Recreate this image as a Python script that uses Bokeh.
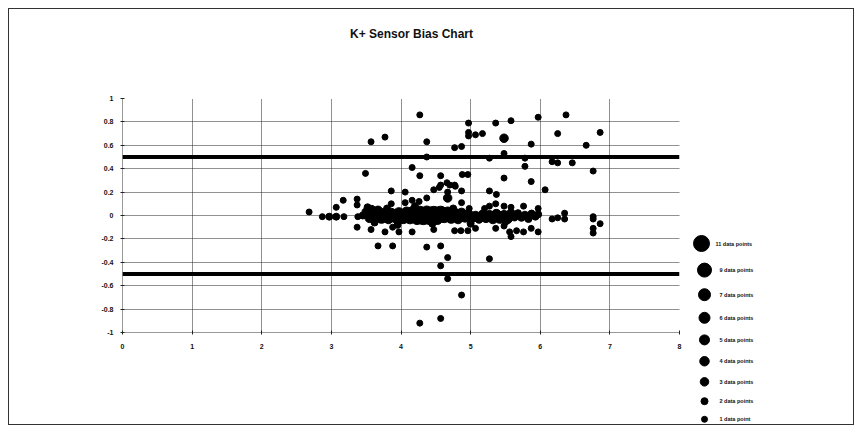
from bokeh.plotting import figure
from bokeh.layouts import row, column
from bokeh.models import Range1d, FixedTicker, Span, ColumnDataSource
from bokeh.core.properties import value
from bokeh.embed import file_html
from bokeh.resources import INLINE

TITLE = "K+ Sensor Bias Chart"
X_TICKS = [0, 1, 2, 3, 4, 5, 6, 7, 8]
X_TICK_LABELS = ["0", "1", "2", "3", "4", "5", "6", "7", "8"]
Y_TICKS = [-1, -0.8, -0.6, -0.4, -0.2, 0, 0.2, 0.4, 0.6, 0.8, 1]
Y_TICK_LABELS = ["-1", "-0.8", "-0.6", "-0.4", "-0.2", "0", "0.2", "0.4", "0.6", "0.8", "1"]
LIMITS = [0.5, -0.5]

# upper outliers
UP_X = [4.27, 4.97, 5.36, 5.58, 5.97, 6.37, 4.97, 4.97, 5.07, 5.17, 5.48, 6.25, 6.86,
        3.57, 3.77, 4.37, 4.77, 4.87, 5.87, 6.66, 4.37, 5.48, 5.27, 5.78, 6.17, 6.25,
        6.46, 5.78, 6.76, 3.49, 4.16, 4.27, 4.57, 4.66, 4.70, 4.78, 4.96, 4.88, 5.48,
        5.87, 6.07, 5.27, 5.37, 3.86, 4.06, 4.47, 4.55, 4.67, 4.87, 4.57, 4.77]
UP_Y = [0.86, 0.79, 0.79, 0.81, 0.84, 0.86, 0.71, 0.68, 0.69, 0.70, 0.66, 0.70, 0.71,
        0.63, 0.67, 0.63, 0.58, 0.59, 0.61, 0.60, 0.50, 0.53, 0.49, 0.49, 0.46, 0.45,
        0.45, 0.42, 0.38, 0.36, 0.41, 0.34, 0.34, 0.28, 0.26, 0.25, 0.35, 0.35, 0.32,
        0.29, 0.22, 0.21, 0.18, 0.21, 0.20, 0.22, 0.24, 0.20, 0.21, 0.26, 0.26]
UP_N = [1, 1, 1, 1, 1, 1, 1, 1, 1, 1, 3, 1, 1,
        1, 1, 1, 1, 1, 1, 1, 1, 1, 1, 1, 1, 1,
        1, 1, 1, 1, 1, 1, 1, 1, 1, 1, 1, 1, 1,
        1, 1, 1, 1, 1, 1, 1, 1, 1, 1, 1, 1]

# points just above the zero band
MID_X = [2.68, 3.07, 3.17, 3.37, 3.37, 3.86, 4.06, 4.16, 4.26, 4.37, 4.67, 4.87,
         5.27, 5.36, 5.48, 5.58, 5.76, 5.87, 5.97, 4.98, 3.52, 3.80, 4.20, 4.75, 5.20]
MID_Y = [0.03, 0.07, 0.13, 0.14, 0.09, 0.10, 0.11, 0.13, 0.12, 0.15, 0.15, 0.11,
         0.08, 0.10, 0.08, 0.07, 0.08, 0.02, 0.06, 0.06, 0.07, 0.06, 0.08, 0.06, 0.06]
MID_N = [1, 1, 1, 1, 1, 1, 1, 1, 1, 1, 3, 1,
         1, 1, 1, 1, 1, 1, 1, 1, 2, 2, 2, 2, 1]

# the dense band around zero
BAND_X = [2.87, 2.97, 3.07, 3.18, 3.38, 3.45, 3.50, 3.55, 3.58, 3.63, 3.67, 3.72,
          3.77, 3.82, 3.86, 3.92, 3.97, 4.03, 4.08, 4.13, 4.18, 4.23, 4.27, 4.32,
          4.37, 4.42, 4.47, 4.52, 4.57, 4.62, 4.67, 4.72, 4.77, 4.82, 4.87, 4.92,
          4.97, 5.02, 5.07, 5.12, 5.17, 5.22, 5.27, 5.32, 5.37, 5.42, 5.48, 5.53,
          5.58, 5.63, 5.68, 5.73, 5.78, 5.83, 5.88, 5.93, 5.97, 6.17, 6.25, 6.35,
          6.35, 6.76, 6.76, 6.86]
BAND_Y = [-0.01, -0.01, -0.01, -0.01, -0.01, 0.00, 0.03, -0.02, 0.05, 0.00, 0.04, -0.02,
          0.02, -0.03, 0.01, -0.02, 0.02, -0.01, 0.03, -0.02, 0.01, -0.03, 0.02, -0.01,
          0.03, -0.02, 0.01, -0.03, 0.02, -0.01, 0.03, -0.02, 0.01, -0.03, 0.02, -0.01,
          0.01, -0.02, 0.00, -0.03, 0.01, -0.02, 0.00, -0.03, 0.01, -0.02, 0.00, -0.03,
          0.02, -0.01, 0.02, -0.02, 0.00, -0.03, 0.02, -0.01, 0.01, -0.03, -0.02, 0.02,
          -0.03, -0.01, -0.03, -0.07]
BAND_N = [1, 2, 2, 1, 1, 2, 3, 4, 3, 5, 4, 6,
          5, 4, 7, 5, 6, 9, 5, 7, 11, 6, 9, 11,
          7, 9, 11, 6, 9, 7, 5, 6, 7, 4, 5, 6,
          4, 4, 3, 3, 3, 4, 5, 4, 5, 6, 5, 4,
          3, 3, 2, 2, 3, 2, 1, 2, 2, 1, 1, 1,
          1, 1, 1, 1]

# points below the zero band
LOW_X = [3.37, 3.57, 3.77, 3.88, 3.97, 4.16, 4.47, 4.77, 4.86, 4.96, 5.07, 5.36,
         5.48, 5.56, 5.58, 5.66, 5.76, 5.87, 5.97, 6.76, 6.76, 3.62, 3.95, 4.45,
         5.00, 5.50, 3.67, 3.88, 4.37, 4.57, 4.67, 5.27, 4.57, 4.67, 4.87, 4.27, 4.57]
LOW_Y = [-0.10, -0.12, -0.14, -0.10, -0.14, -0.14, -0.12, -0.13, -0.13, -0.13, -0.11, -0.11,
         -0.09, -0.14, -0.18, -0.13, -0.14, -0.11, -0.14, -0.11, -0.15, -0.06, -0.08, -0.07,
         -0.07, -0.06, -0.26, -0.26, -0.27, -0.26, -0.36, -0.37, -0.43, -0.54, -0.68, -0.92, -0.88]
LOW_N = [1, 1, 1, 1, 1, 1, 1, 1, 1, 1, 1, 1,
         1, 1, 1, 1, 1, 1, 1, 1, 1, 2, 2, 2,
         2, 1, 1, 1, 1, 1, 1, 1, 1, 1, 1, 1, 1]

LEGEND_COUNTS = [11, 9, 7, 6, 5, 4, 3, 2, 1]
LEGEND_LABELS = ["11 data points", "9 data points", "7 data points", "6 data points",
                 "5 data points", "4 data points", "3 data points", "2 data points",
                 "1 data point"]

# ---------------- styling / layout ----------------
SIZE_OF = {1: 6, 2: 7, 3: 8.5, 4: 9.5, 5: 10, 6: 11, 7: 12, 8: 13, 9: 14, 10: 15, 11: 16}
FONT = "Liberation Sans"

xs = UP_X + MID_X + BAND_X + LOW_X
ys = UP_Y + MID_Y + BAND_Y + LOW_Y
ns = UP_N + MID_N + BAND_N + LOW_N
src = ColumnDataSource(dict(x=xs, y=ys, n=ns, size=[SIZE_OF[n] for n in ns]))

W_MAIN, W_LEG, H_TITLE, H = 680, 164, 40, 375

# ---------------- title strip ----------------
tfig = figure(width=W_MAIN + W_LEG, height=H_TITLE, output_backend="svg",
              toolbar_location=None, x_range=Range1d(0, W_MAIN + W_LEG),
              y_range=Range1d(H_TITLE, 0), x_axis_location=None, y_axis_location=None,
              min_border_left=0, min_border_right=0, min_border_top=0,
              min_border_bottom=0, outline_line_color=None)
tfig.grid.visible = False
tsrc = ColumnDataSource(dict(x=[402], y=[24], t=[TITLE]))
tfig.text("x", "y", text="t", source=tsrc, text_font=value(FONT), text_font_size="12px",
          text_font_style="bold", text_align="center", text_baseline="middle",
          text_color="#111111")

# ---------------- main chart ----------------
p = figure(width=W_MAIN, height=H, output_backend="svg", toolbar_location=None,
           x_range=Range1d(0, 8), y_range=Range1d(-1, 1),
           min_border_left=113, min_border_right=10, min_border_top=49,
           min_border_bottom=92, outline_line_color=None)

for ax in (p.xaxis[0], p.yaxis[0]):
    ax.axis_line_color = "#333333"
    ax.axis_line_dash = "1 1"
    ax.major_tick_line_color = "#222222"
    ax.major_tick_in = 2
    ax.major_tick_out = 2
    ax.minor_tick_line_color = None
    ax.major_label_text_font = FONT
    ax.major_label_text_font_size = "7px"
    ax.major_label_text_font_style = "bold"
    ax.major_label_text_color = "#111111"

p.xaxis.ticker = FixedTicker(ticks=X_TICKS)
p.xaxis.major_label_overrides = {t: l for t, l in zip(X_TICKS, X_TICK_LABELS)}
p.xaxis.major_label_standoff = 9
p.yaxis.ticker = FixedTicker(ticks=Y_TICKS)
p.yaxis.major_label_overrides = {t: l for t, l in zip(Y_TICKS, Y_TICK_LABELS)}
p.yaxis.major_label_standoff = 7

for g in (p.xgrid[0], p.ygrid[0]):
    g.grid_line_color = "#222222"
    g.grid_line_dash = "1 1"
    g.grid_line_width = 1
p.xgrid.ticker = FixedTicker(ticks=X_TICKS)
p.ygrid.ticker = FixedTicker(ticks=Y_TICKS)

for lim in LIMITS:
    p.add_layout(Span(location=lim, dimension="width", line_color="black", line_width=4))

p.scatter("x", "y", size="size", source=src, marker="circle",
          fill_color="black", line_color="black")

# ---------------- legend panel ----------------
leg = figure(width=W_LEG, height=H, output_backend="svg", toolbar_location=None,
             x_range=Range1d(0, W_LEG), y_range=Range1d(H, 0),
             x_axis_location=None, y_axis_location=None,
             min_border_left=0, min_border_right=0, min_border_top=0,
             min_border_bottom=0, outline_line_color=None)
leg.grid.visible = False

gap = 11.6
ly = [194.0]
for a, b in zip(LEGEND_COUNTS[:-1], LEGEND_COUNTS[1:]):
    ly.append(ly[-1] + (SIZE_OF[a] + SIZE_OF[b]) / 2 + gap)
lx = [12 if c >= 10 else 15 for c in LEGEND_COUNTS]
tx = [26 if c >= 10 else 30 for c in LEGEND_COUNTS]
lsrc = ColumnDataSource(dict(x=lx, tx=tx, y=ly, size=[SIZE_OF[c] for c in LEGEND_COUNTS],
                             label=LEGEND_LABELS))
leg.scatter("x", "y", size="size", source=lsrc, marker="circle",
            fill_color="black", line_color="black")
leg.text("tx", "y", text="label", source=lsrc, text_font=value(FONT),
         text_font_size="5.5px", text_font_style="bold", text_baseline="middle",
         text_color="#111111")

layout = column(column(tfig), row(p, column(leg)),
                styles={"border": "1px solid #333333",
                        "margin-left": "8px", "margin-top": "8px"})
open("out.html", "w").write(file_html(layout, INLINE))
